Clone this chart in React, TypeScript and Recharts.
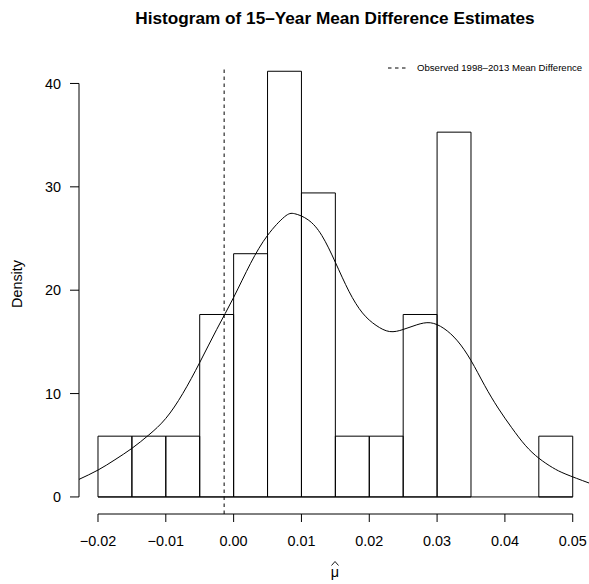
import React from 'react';
import {
    ComposedChart,
    Line,
    XAxis,
    YAxis,
    ReferenceArea,
    ReferenceLine
} from 'recharts';

// histogram bins (width 0.005) and their densities
const binEdges = [-0.02, -0.015, -0.01, -0.005, 0, 0.005, 0.01, 0.015, 0.02, 0.025, 0.03, 0.035, 0.04, 0.045, 0.05];
const binDensity = [5.88, 5.88, 5.88, 17.65, 23.53, 41.18, 29.41, 5.88, 5.88, 17.65, 35.29, 0, 0, 5.88];

// kernel density curve
const curveX = [-0.0228, -0.02, -0.0175, -0.015, -0.0125, -0.01, -0.0075, -0.005, -0.0025, 0, 0.0025, 0.005, 0.0075, 0.009, 0.011, 0.013, 0.015, 0.017, 0.019, 0.021, 0.023, 0.025, 0.027, 0.029, 0.031, 0.033, 0.035, 0.037, 0.039, 0.041, 0.043, 0.045, 0.047, 0.049, 0.0524];
const curveY = [1.7, 2.6, 3.6, 4.7, 6.0, 7.6, 10.0, 13.0, 16.2, 19.3, 22.6, 25.3, 27.1, 27.4, 26.8, 25.3, 22.7, 19.9, 17.8, 16.6, 16.0, 16.2, 16.65, 16.85, 16.3, 15.1, 13.2, 10.8, 8.6, 6.7, 5.0, 3.75, 2.85, 2.2, 1.35];

const xTicks = [-0.02, -0.01, 0, 0.01, 0.02, 0.03, 0.04, 0.05];
const yTicks = [0, 10, 20, 30, 40];
const observedDiff = -0.0014;

const FONT = '"Liberation Sans", Arial, Helvetica, sans-serif';

const curveData = curveX.map((x, i) => ({ x, y: curveY[i] }));

const fmtX = (v: number) => v.toFixed(2).replace('-', '\u2212');

const App: React.FC = () => {
    return (
        <div style={{ position: 'absolute', left: 0, top: 0, width: 589, height: 584, background: '#fff', fontFamily: FONT }}>
            <ComposedChart
                width={589}
                height={584}
                data={curveData}
                margin={{ top: 54, right: 0, bottom: 40, left: 0 }}
            >
                <XAxis
                    dataKey="x"
                    type="number"
                    domain={[-0.0228, 0.0524]}
                    allowDataOverflow
                    ticks={xTicks}
                    tickFormatter={fmtX}
                    axisLine={false}
                    tickLine={{ stroke: '#000' }}
                    tickSize={8}
                    tickMargin={14}
                    height={30}
                    tick={{ fill: '#000', fontSize: 14.4, fontFamily: FONT }}
                />
                <YAxis
                    type="number"
                    domain={[-1.65, 42.85]}
                    allowDataOverflow
                    ticks={yTicks}
                    axisLine={false}
                    tickLine={{ stroke: '#000' }}
                    tickSize={9}
                    tickMargin={9}
                    width={79}
                    tick={{ fill: '#000', fontSize: 14.4, fontFamily: FONT }}
                />
                {/* axis lines span only the tick range, like base R */}
                <ReferenceLine
                    segment={[{ x: -0.02, y: -1.65 }, { x: 0.05, y: -1.65 }]}
                    stroke="#000"
                    ifOverflow="visible"
                />
                <ReferenceLine
                    segment={[{ x: -0.0228, y: 0 }, { x: -0.0228, y: 40 }]}
                    stroke="#000"
                    ifOverflow="visible"
                />
                <ReferenceLine
                    segment={[{ x: binEdges[0], y: 0 }, { x: binEdges[binEdges.length - 1], y: 0 }]}
                    stroke="#000"
                    ifOverflow="visible"
                />
                {binDensity.map((d, i) =>
                    d > 0 ? (
                        <ReferenceArea
                            key={`bin-${i}`}
                            x1={binEdges[i]}
                            x2={binEdges[i + 1]}
                            y1={0}
                            y2={d}
                            fill="none"
                            fillOpacity={0}
                            stroke="#000"
                            strokeWidth={1}
                            strokeOpacity={1}
                            ifOverflow="visible"
                        />
                    ) : null
                )}
                <ReferenceLine
                    segment={[{ x: observedDiff, y: -1.65 }, { x: observedDiff, y: 41.6 }]}
                    stroke="#000"
                    strokeDasharray="3.5 3.5"
                    ifOverflow="visible"
                />
                <Line
                    dataKey="y"
                    type="natural"
                    dot={false}
                    activeDot={false}
                    stroke="#000"
                    strokeWidth={1}
                    isAnimationActive={false}
                />
            </ComposedChart>

            {/* title */}
            <div style={{ position: 'absolute', left: 0, width: 670, top: 8, textAlign: 'center', fontWeight: 'bold', fontSize: 17.2, lineHeight: '20px', color: '#000' }}>
                Histogram of 15{'\u2013'}Year Mean Difference Estimates
            </div>

            {/* legend */}
            <div style={{ position: 'absolute', left: 386, top: 61, fontSize: 9.6, lineHeight: '14px', color: '#000', whiteSpace: 'nowrap', display: 'flex', alignItems: 'center' }}>
                <svg width={24} height={14} style={{ display: 'block' }}>
                    <line x1={2} y1={7} x2={21} y2={7} stroke="#000" strokeDasharray="3.5 3.5" />
                </svg>
                <span style={{ marginLeft: 7 }}>Observed 1998{'\u2013'}2013 Mean Difference</span>
            </div>

            {/* y axis label */}
            <div style={{ position: 'absolute', left: 17, top: 284, width: 0, height: 0 }}>
                <div style={{ position: 'absolute', transform: 'translate(-50%, -50%) rotate(-90deg)', fontSize: 14.4, lineHeight: '17px', color: '#000', whiteSpace: 'nowrap' }}>
                    Density
                </div>
            </div>

            {/* x axis label: mu with a hat (hat drawn as a small stroke) */}
            <div style={{ position: 'absolute', left: 0, width: 670, top: 563, textAlign: 'center', fontSize: 14.4, lineHeight: '18px', color: '#000' }}>
                <span style={{ position: 'relative', display: 'inline-block' }}>
                    {'\u03bc'}
                    <svg width={8} height={5} style={{ position: 'absolute', left: '50%', top: -2, marginLeft: -4, overflow: 'visible' }}>
                        <polyline points="0.5,4.5 4,0.5 7.5,4.5" fill="none" stroke="#000" strokeWidth={0.9} />
                    </svg>
                </span>
            </div>
        </div>
    );
};

export default App;
